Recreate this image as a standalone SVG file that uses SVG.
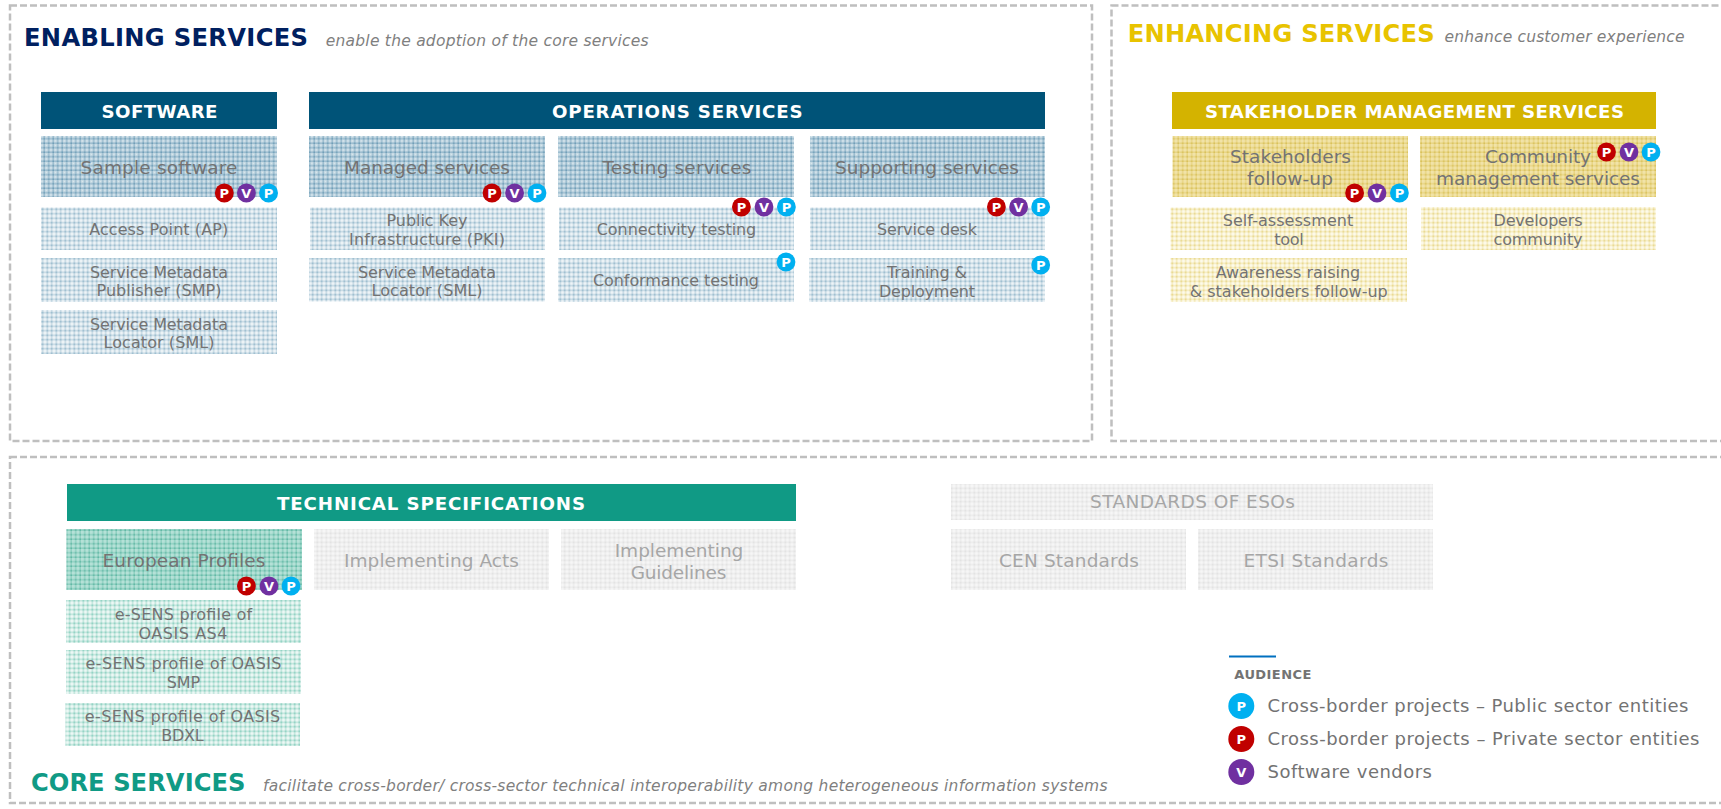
<svg xmlns="http://www.w3.org/2000/svg" width="1721" height="809" viewBox="0 0 1721 809">
<style>
text{font-family:"DejaVu Sans","Liberation Sans",sans-serif;text-anchor:middle;fill:#737373}
.frame{fill:none;stroke:#bfbfbf;stroke-width:2.5;stroke-dasharray:7 3}
.big{font-size:18.5px}.sm{font-size:16px}
.hd{font-size:18.2px;font-weight:bold;fill:#fff}
.title{font-size:24.2px;font-weight:bold;text-anchor:start}
.sub{font-size:15.5px;font-style:italic;text-anchor:start;fill:#7f7f7f}
.gr{fill:#a6a6a6}
.leg{font-size:18px;text-anchor:start;fill:#737373}
.b{font-size:13px;font-weight:bold;fill:#fff}
.pr{fill:#c00000}.ve{fill:#7030a0}.pu{fill:#00b0f0}
</style>
<defs>
<pattern id="bd" width="4.5" height="4.5" patternUnits="userSpaceOnUse"><rect width="4.5" height="4.5" fill="#c6dae4"/><rect y="3" width="4.5" height="1.5" fill="#9dbdcf"/><rect x="3" width="1.5" height="4.5" fill="#9dbdcf"/><rect x="3" y="3" width="1.5" height="1.5" fill="#6f9eb7"/><rect x="1" y="1" width="1" height="1" fill="#e2ecf1"/></pattern>
<pattern id="bl" width="4.5" height="4.5" patternUnits="userSpaceOnUse"><rect width="4.5" height="4.5" fill="#eef4f7"/><rect y="1.5" width="4.5" height="1.5" fill="#c3d7e2"/><rect x="1.5" width="1.5" height="4.5" fill="#c3d7e2"/><rect x="1.5" y="1.5" width="1.5" height="1.5" fill="#8db3c7"/></pattern>
<pattern id="yd" width="4.5" height="4.5" patternUnits="userSpaceOnUse"><rect width="4.5" height="4.5" fill="#f1e3a8"/><rect y="3" width="4.5" height="1.5" fill="#e8d584"/><rect x="3" width="1.5" height="4.5" fill="#e8d584"/><rect x="3" y="3" width="1.5" height="1.5" fill="#d8c05a"/></pattern>
<pattern id="yl" width="4.5" height="4.5" patternUnits="userSpaceOnUse"><rect width="4.5" height="4.5" fill="#fdfaeb"/><rect y="1.5" width="4.5" height="1.5" fill="#f5ebbd"/><rect x="1.5" width="1.5" height="4.5" fill="#f5ebbd"/><rect x="1.5" y="1.5" width="1.5" height="1.5" fill="#e5d27e"/></pattern>
<pattern id="gd" width="4.5" height="4.5" patternUnits="userSpaceOnUse"><rect width="4.5" height="4.5" fill="#b5e1d7"/><rect y="3" width="4.5" height="1.5" fill="#8fd0c1"/><rect x="3" width="1.5" height="4.5" fill="#8fd0c1"/><rect x="3" y="3" width="1.5" height="1.5" fill="#5fb7a4"/></pattern>
<pattern id="gl" width="4.5" height="4.5" patternUnits="userSpaceOnUse"><rect width="4.5" height="4.5" fill="#edf8f5"/><rect y="1.5" width="4.5" height="1.5" fill="#bde4da"/><rect x="1.5" width="1.5" height="4.5" fill="#bde4da"/><rect x="1.5" y="1.5" width="1.5" height="1.5" fill="#7ecbb9"/></pattern>
<pattern id="gy" width="4.5" height="4.5" patternUnits="userSpaceOnUse"><rect width="4.5" height="4.5" fill="#f6f6f6"/><rect y="1.5" width="4.5" height="1.5" fill="#ececec"/><rect x="1.5" width="1.5" height="4.5" fill="#ececec"/><rect x="1.5" y="1.5" width="1.5" height="1.5" fill="#dedede"/></pattern>
</defs>

<g id="enabling">
<rect class="frame" x="10" y="5.5" width="1082" height="435.5"/>
<text class="title" x="24" y="46" style="fill:#002060" textLength="284">ENABLING SERVICES</text>
<text class="sub" x="325.7" y="46" textLength="323">enable the adoption of the core services</text>
</g>
<g id="enhancing">
<rect class="frame" x="1111.5" y="5.5" width="640" height="435.5"/>
<text class="title" x="1127.7" y="42" style="fill:#e8c300" textLength="307">ENHANCING SERVICES</text>
<text class="sub" x="1444.6" y="42" textLength="240">enhance customer experience</text>
</g>
<g id="core">
<rect class="frame" x="10" y="457" width="1740" height="346"/>
<text class="title" x="31" y="790.7" style="fill:#109a85" textLength="214.5">CORE SERVICES</text>
<text class="sub" x="263" y="790.7" textLength="844.5">facilitate cross-border/ cross-sector technical interoperability among heterogeneous information systems</text>
</g>

<g id="software-header"><rect x="41" y="92" width="236" height="37" fill="#005378"/><text class="hd" x="159.5" y="118" textLength="116">SOFTWARE</text></g>
<g id="sample-software"><rect x="41" y="136" width="236" height="61" fill="url(#bd)"/><text class="big" x="159" y="174" textLength="157">Sample software</text>
<circle class="pr" cx="224.3" cy="193" r="9.4"/><text class="b" x="224.3" y="197.7">P</text><circle class="ve" cx="246.4" cy="193" r="9.4"/><text class="b" x="246.4" y="197.7">V</text><circle class="pu" cx="268.6" cy="193" r="9.4"/><text class="b" x="268.6" y="197.7">P</text></g>
<g id="access-point"><rect x="41" y="207.5" width="236" height="42.5" fill="url(#bl)"/><text class="sm" x="158.7" y="235" textLength="139">Access Point (AP)</text></g>
<g id="smp"><rect x="41" y="258" width="236" height="44" fill="url(#bl)"/><text class="sm" x="159" y="277.7" textLength="138">Service Metadata</text><text class="sm" x="159" y="296" textLength="125">Publisher (SMP)</text></g>
<g id="sml-software"><rect x="41" y="310" width="236" height="44" fill="url(#bl)"/><text class="sm" x="159" y="329.5" textLength="138">Service Metadata</text><text class="sm" x="159" y="348" textLength="111">Locator (SML)</text></g>

<g id="operations-header"><rect x="309" y="92" width="736" height="37" fill="#005378"/><text class="hd" x="677.3" y="118" textLength="250.5">OPERATIONS SERVICES</text></g>
<g id="managed"><rect x="309" y="136" width="236" height="61" fill="url(#bd)"/><text class="big" x="427" y="174" textLength="166">Managed services</text>
<circle class="pr" cx="492" cy="193" r="9.4"/><text class="b" x="492" y="197.7">P</text><circle class="ve" cx="514.6" cy="193" r="9.4"/><text class="b" x="514.6" y="197.7">V</text><circle class="pu" cx="537" cy="193" r="9.4"/><text class="b" x="537" y="197.7">P</text></g>
<g id="pki"><rect x="310" y="207.5" width="235" height="42.5" fill="url(#bl)"/><text class="sm" x="427" y="225.7" textLength="81">Public Key</text><text class="sm" x="427" y="244.7" textLength="156">Infrastructure (PKI)</text></g>
<g id="sml-ops"><rect x="309" y="258" width="236" height="43.5" fill="url(#bl)"/><text class="sm" x="427" y="277.7" textLength="138">Service Metadata</text><text class="sm" x="427" y="296" textLength="111">Locator (SML)</text></g>
<g id="testing"><rect x="558" y="136" width="236" height="61" fill="url(#bd)"/><text class="big" x="677" y="174" textLength="149">Testing services</text></g>
<g id="connectivity"><rect x="559" y="207.5" width="235" height="42.5" fill="url(#bl)"/><text class="sm" x="676.5" y="235" textLength="159.5">Connectivity testing</text>
<circle class="pr" cx="741.4" cy="207" r="9.4"/><text class="b" x="741.4" y="211.7">P</text><circle class="ve" cx="764" cy="207" r="9.4"/><text class="b" x="764" y="211.7">V</text><circle class="pu" cx="786.4" cy="207" r="9.4"/><text class="b" x="786.4" y="211.7">P</text></g>
<g id="conformance"><rect x="558" y="258" width="236" height="44" fill="url(#bl)"/><text class="sm" x="676" y="286" textLength="166">Conformance testing</text>
<circle class="pu" cx="786" cy="262" r="9.4"/><text class="b" x="786" y="266.7">P</text></g>
<g id="supporting"><rect x="810" y="136" width="235" height="61" fill="url(#bd)"/><text class="big" x="927" y="174" textLength="184">Supporting services</text></g>
<g id="service-desk"><rect x="810" y="207.5" width="235" height="42.5" fill="url(#bl)"/><text class="sm" x="927" y="235" textLength="100">Service desk</text>
<circle class="pr" cx="996.4" cy="207" r="9.4"/><text class="b" x="996.4" y="211.7">P</text><circle class="ve" cx="1018.6" cy="207" r="9.4"/><text class="b" x="1018.6" y="211.7">V</text><circle class="pu" cx="1040.7" cy="207" r="9.4"/><text class="b" x="1040.7" y="211.7">P</text></g>
<g id="training"><rect x="809" y="258" width="236" height="44" fill="url(#bl)"/><text class="sm" x="927" y="277.7" textLength="80">Training &amp;</text><text class="sm" x="927" y="296.7" textLength="96">Deployment</text>
<circle class="pu" cx="1040.7" cy="265" r="9.4"/><text class="b" x="1040.7" y="269.7">P</text></g>

<g id="stakeholder-header"><rect x="1172" y="92" width="484" height="37" fill="#d4b300"/><text class="hd" x="1414.5" y="118" textLength="419">STAKEHOLDER MANAGEMENT SERVICES</text></g>
<g id="stakeholders"><rect x="1172.5" y="136" width="235.5" height="61" fill="url(#yd)"/><text class="big" x="1290.5" y="163.3" textLength="121">Stakeholders</text><text class="big" x="1290" y="185" textLength="86">follow-up</text>
<circle class="pr" cx="1354.6" cy="193" r="9.4"/><text class="b" x="1354.6" y="197.7">P</text><circle class="ve" cx="1377" cy="193" r="9.4"/><text class="b" x="1377" y="197.7">V</text><circle class="pu" cx="1399.4" cy="193" r="9.4"/><text class="b" x="1399.4" y="197.7">P</text></g>
<g id="community"><rect x="1420" y="136" width="236" height="61" fill="url(#yd)"/><text class="big" x="1538" y="163.3" textLength="106">Community</text><text class="big" x="1538" y="185" textLength="204">management services</text>
<circle class="pr" cx="1606.5" cy="152" r="9.4"/><text class="b" x="1606.5" y="156.7">P</text><circle class="ve" cx="1629" cy="152" r="9.4"/><text class="b" x="1629" y="156.7">V</text><circle class="pu" cx="1651" cy="152" r="9.4"/><text class="b" x="1651" y="156.7">P</text></g>
<g id="self-assessment"><rect x="1170.5" y="207.5" width="236.5" height="42.5" fill="url(#yl)"/><text class="sm" x="1288" y="225.7" textLength="130.5">Self-assessment</text><text class="sm" x="1289" y="244.7" textLength="29.5">tool</text></g>
<g id="developers"><rect x="1421" y="207" width="235" height="43" fill="url(#yl)"/><text class="sm" x="1538" y="225.7" textLength="89">Developers</text><text class="sm" x="1538" y="244.7" textLength="89">community</text></g>
<g id="awareness"><rect x="1170.5" y="258" width="236.5" height="44" fill="url(#yl)"/><text class="sm" x="1288" y="277.7" textLength="144.5">Awareness raising</text><text class="sm" x="1288.7" y="296.7" textLength="198">&amp; stakeholders follow-up</text></g>

<g id="tech-header"><rect x="67" y="484" width="729" height="37" fill="#109a85"/><text class="hd" x="431" y="510" textLength="308">TECHNICAL SPECIFICATIONS</text></g>
<g id="european-profiles"><rect x="66.4" y="529" width="235.6" height="61" fill="url(#gd)"/><text class="big" x="184" y="567" textLength="163">European Profiles</text>
<circle class="pr" cx="246.4" cy="586" r="9.4"/><text class="b" x="246.4" y="590.7">P</text><circle class="ve" cx="269" cy="586" r="9.4"/><text class="b" x="269" y="590.7">V</text><circle class="pu" cx="291" cy="586" r="9.4"/><text class="b" x="291" y="590.7">P</text></g>
<g id="as4"><rect x="66" y="600" width="235" height="43" fill="url(#gl)"/><text class="sm" x="183.5" y="620" textLength="137.5">e-SENS profile of</text><text class="sm" x="183" y="638.7" textLength="89">OASIS AS4</text></g>
<g id="smp-profile"><rect x="66" y="650" width="235" height="44" fill="url(#gl)"/><text class="sm" x="183.5" y="668.7" textLength="196">e-SENS profile of OASIS</text><text class="sm" x="183.5" y="688" textLength="33.5">SMP</text></g>
<g id="bdxl"><rect x="65.5" y="703" width="234.5" height="43" fill="url(#gl)"/><text class="sm" x="182.5" y="721.7" textLength="195.5">e-SENS profile of OASIS</text><text class="sm" x="182.5" y="740.7" textLength="42.5">BDXL</text></g>
<g id="implementing-acts"><rect x="314" y="529" width="235" height="61" fill="url(#gy)"/><text class="big gr" x="431.5" y="567" textLength="175">Implementing Acts</text></g>
<g id="implementing-guidelines"><rect x="561" y="529" width="235" height="61" fill="url(#gy)"/><text class="big gr" x="679" y="557" textLength="128.7">Implementing</text><text class="big gr" x="678.5" y="579" textLength="95.7">Guidelines</text></g>
<g id="standards-header"><rect x="951" y="484" width="482" height="36" fill="url(#gy)"/><text class="big gr" x="1192.5" y="508" textLength="205">STANDARDS OF ESOs</text></g>
<g id="cen"><rect x="951" y="529" width="235" height="61" fill="url(#gy)"/><text class="big gr" x="1069" y="567" textLength="140">CEN Standards</text></g>
<g id="etsi"><rect x="1198" y="529" width="235" height="61" fill="url(#gy)"/><text class="big gr" x="1316" y="567" textLength="145">ETSI Standards</text></g>

<g id="legend">
<rect x="1229" y="655.5" width="47" height="2" fill="#0070c0"/>
<text x="1234.3" y="679.3" style="font-size:13px;font-weight:bold;text-anchor:start" textLength="77">AUDIENCE</text>
<circle class="pu" cx="1241.3" cy="706" r="13"/><text class="b" x="1241.3" y="710.7">P</text>
<text class="leg" x="1267.5" y="711.7" textLength="421">Cross-border projects – Public sector entities</text>
<circle class="pr" cx="1241.3" cy="739" r="13"/><text class="b" x="1241.3" y="743.7">P</text>
<text class="leg" x="1267.5" y="744.7" textLength="432">Cross-border projects – Private sector entities</text>
<circle class="ve" cx="1241.3" cy="772" r="13"/><text class="b" x="1241.3" y="776.7">V</text>
<text class="leg" x="1267.5" y="777.7" textLength="164.5">Software vendors</text>
</g>
</svg>
